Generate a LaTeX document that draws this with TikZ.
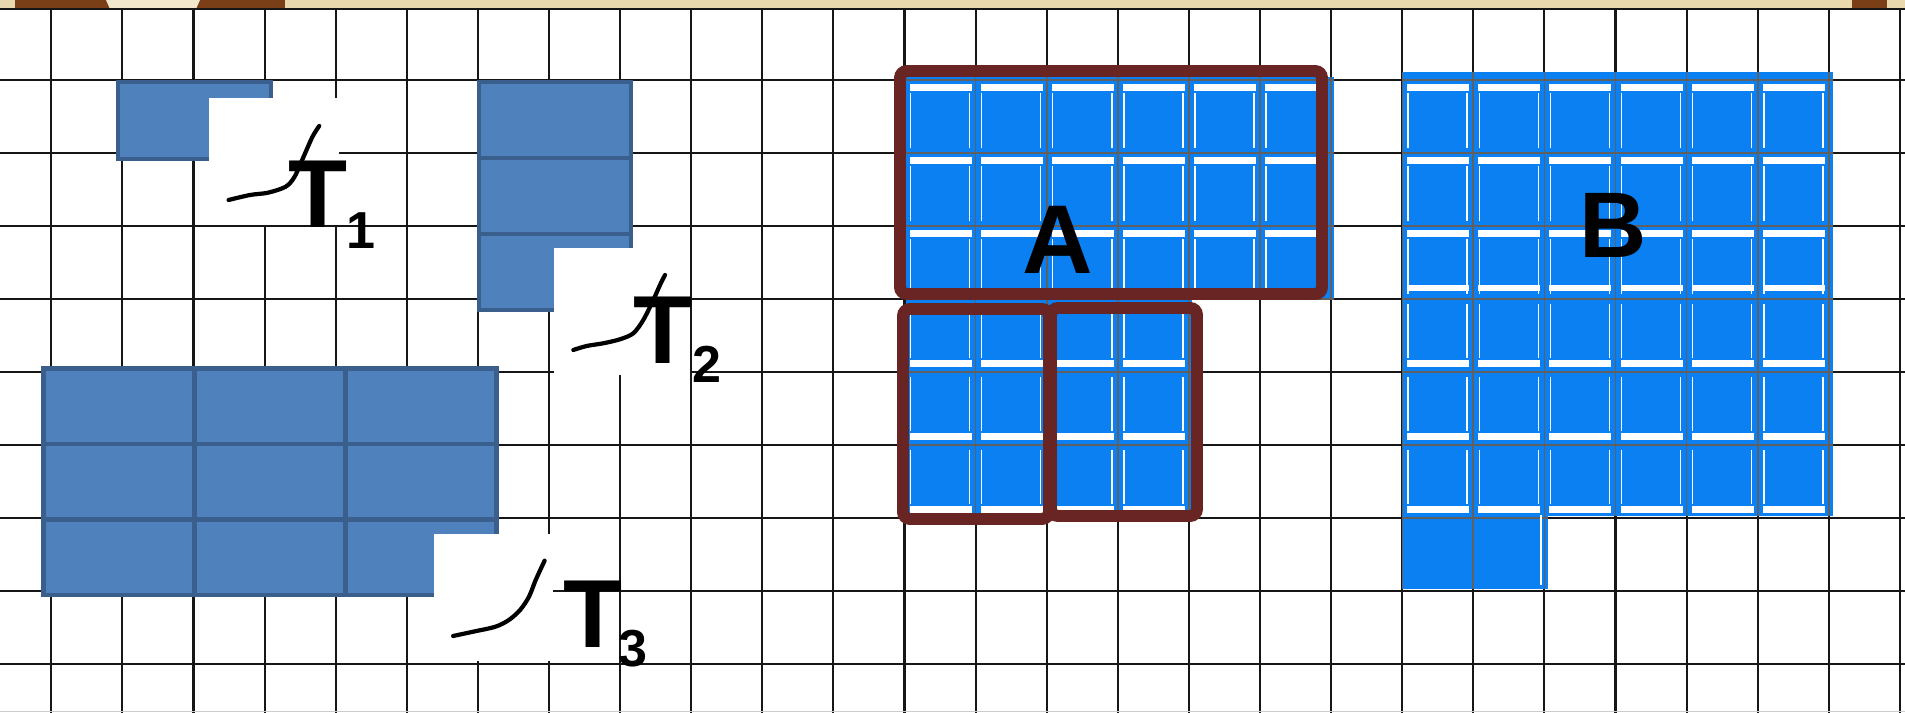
\documentclass[tikz,border=0pt]{standalone}
\usepackage{fontspec}
\setmainfont{Liberation Sans}
\definecolor{gridc}{HTML}{161616}
\definecolor{tilec}{HTML}{4F81BD}
\definecolor{tileb}{HTML}{3A5F8C}
\definecolor{cellc}{HTML}{0B80F2}
\definecolor{framec}{HTML}{692523}
\definecolor{bandc}{HTML}{E9D8AE}
\definecolor{bandd}{HTML}{7A3F17}
\newcommand{\tidx}[3]{\kern#1\raisebox{#2}{\fontsize{14.8}{16}\selectfont #3}}
\tikzset{
  gline/.style={gridc,line width=0.6pt},
  inline/.style={gray!75!black,line width=0.5pt},
  wline/.style={white,line width=0.45pt},
  tile/.style={draw=tileb,fill=tilec,line width=1.2pt},
  stroke/.style={black,line width=1.2pt,line cap=round,line join=round},
  frame/.style={draw=framec,line width=3.4pt,rounded corners=2pt},
  lab/.style={font=\fontsize{27.5}{30}\selectfont\bfseries,inner sep=0pt},
  tlab/.style={lab,anchor=base west}
}

\begin{document}
\begin{tikzpicture}[x=0.01cm,y=-0.01cm]
\useasboundingbox (0,0) rectangle (1905,713);
\fill[white] (0,0) rectangle (1905,713);
% top strip
\fill[bandc] (0,0) rectangle (1905,9);
\fill[bandd] (15,0) rectangle (285,9);
\fill[bandc!60!white] (106,0) -- (200,0) -- (196,9) -- (110,9) -- cycle;
\fill[bandd] (1852,0) rectangle (1887,9);
% grid
\foreach \i in {0,...,26} \draw[gline] ({51.3+71.1*\i},9) -- ({51.3+71.1*\i},713);
\draw[gline] (0,9) -- (1905,9);
\foreach \j in {0,...,8} \draw[gline] (0,{80+73*\j}) -- (1905,{80+73*\j});
\draw[gray!40,line width=0.5pt] (0,711.5) -- (1905,711.5);
% tiles
\draw[tile] (118,82) rectangle (271,159);
\foreach \r in {0,1,2} \draw[tile] (479,{82+76*\r}) rectangle +(152,76);
\foreach \c in {0,1,2} \foreach \r in {0,1,2}
  \draw[tile] ({43.5+151*\c},{368.5+75.5*\r}) rectangle +(151,75.5);
% white patches
\fill[white] (209,98) rectangle (339,225);
\fill[white] (554,248) rectangle (690,375);
\fill[white] (434,534) rectangle (553,661);
% hand strokes
\draw[stroke] plot[smooth] coordinates {(228.6,200) (250,195) (268,192.7) (285.7,186.7) (294.6,176.7) (303.6,156.7) (312.5,136.7) (319.2,126)};
\draw[stroke] plot[smooth] coordinates {(573.3,350) (586.7,346) (603.3,343.3) (620,339.3) (633.3,333.3) (643.3,320) (653.3,300) (660,285) (665,275)};
\draw[stroke] plot[smooth] coordinates {(453.1,636) (473.2,631.7) (495.5,626.7) (508.9,620) (520.1,610) (529,596.7) (535.7,580) (544.6,560.7)};
% labels T
\node[tlab] (t1) at (288,228) {T\tidx{-0.3pt}{-5.7pt}{1}};
\node[tlab] (t2) at (633,364) {T\tidx{0pt}{-5.4pt}{2}};
\node[tlab] (t3) at (562.7,648) {T\tidx{-1pt}{-5.4pt}{3}};
% blue cells of A and B
\fill[cellc] (906,77) rectangle (1334,300);
\fill[cellc] (906,299) rectangle (1192,513);
\fill[cellc] (1402,72) rectangle (1833,516);
\fill[cellc] (1402,515) rectangle (1548,589);
\begin{scope}
\clip (906,77) rectangle (1334,300) (906,299) rectangle (1192,513)
  (1402,72) rectangle (1833,516) (1402,515) rectangle (1548,589);
\foreach \i in {12,...,26} \draw[inline] ({51.3+71.1*\i},0) -- ({51.3+71.1*\i},713);
\foreach \j in {0,...,7} \draw[inline] (880,{80+73*\j}) -- (1905,{80+73*\j});
\foreach \c in {12,13,14,15,16,17,19,20,21,22,23,24} \foreach \r in {0,1,2} {
  \pgfmathsetmacro\x{51.3+71.1*\c}
  \pgfmathsetmacro\y{80+73*\r}
  \fill[white] (\x+5,\y+4) rectangle (\x+67,\y+11);
  \draw[wline] (\x+6,\y+13) -- (\x+6,\y+68) (\x+65,\y+13) -- (\x+65,\y+68);
}
\foreach \c in {12,13,14,15,19,20,21,22,23,24} \foreach \r in {3,4,5} {
  \pgfmathsetmacro\x{51.3+71.1*\c}
  \pgfmathsetmacro\y{80+73*\r}
  \fill[white] (\x+5,\y+61) rectangle (\x+67,\y+68);
  \draw[wline] (\x+6,\y+5) -- (\x+6,\y+59) (\x+65,\y+5) -- (\x+65,\y+59);
}
\foreach \c in {19,20,21,22,23,24} {
  \pgfmathsetmacro\x{51.3+71.1*\c}
  \fill[white] (\x+5,285) rectangle (\x+67,291);
}
\draw[wline] (1541,515) -- (1541,585);
\end{scope}
% frames of A
\draw[frame] (900,71) rectangle (1322,294);
\draw[frame] (1051,308) rectangle (1197,516);
\draw[frame] (903,309) rectangle (1049,519);
\node[lab,font=\fontsize{27.8}{30}\selectfont\bfseries] (la) at (1057.5,240) {A};
\node[lab,font=\fontsize{26.5}{30}\selectfont\bfseries] (lb) at (1613.5,225) {B};
\end{tikzpicture}
\end{document}
